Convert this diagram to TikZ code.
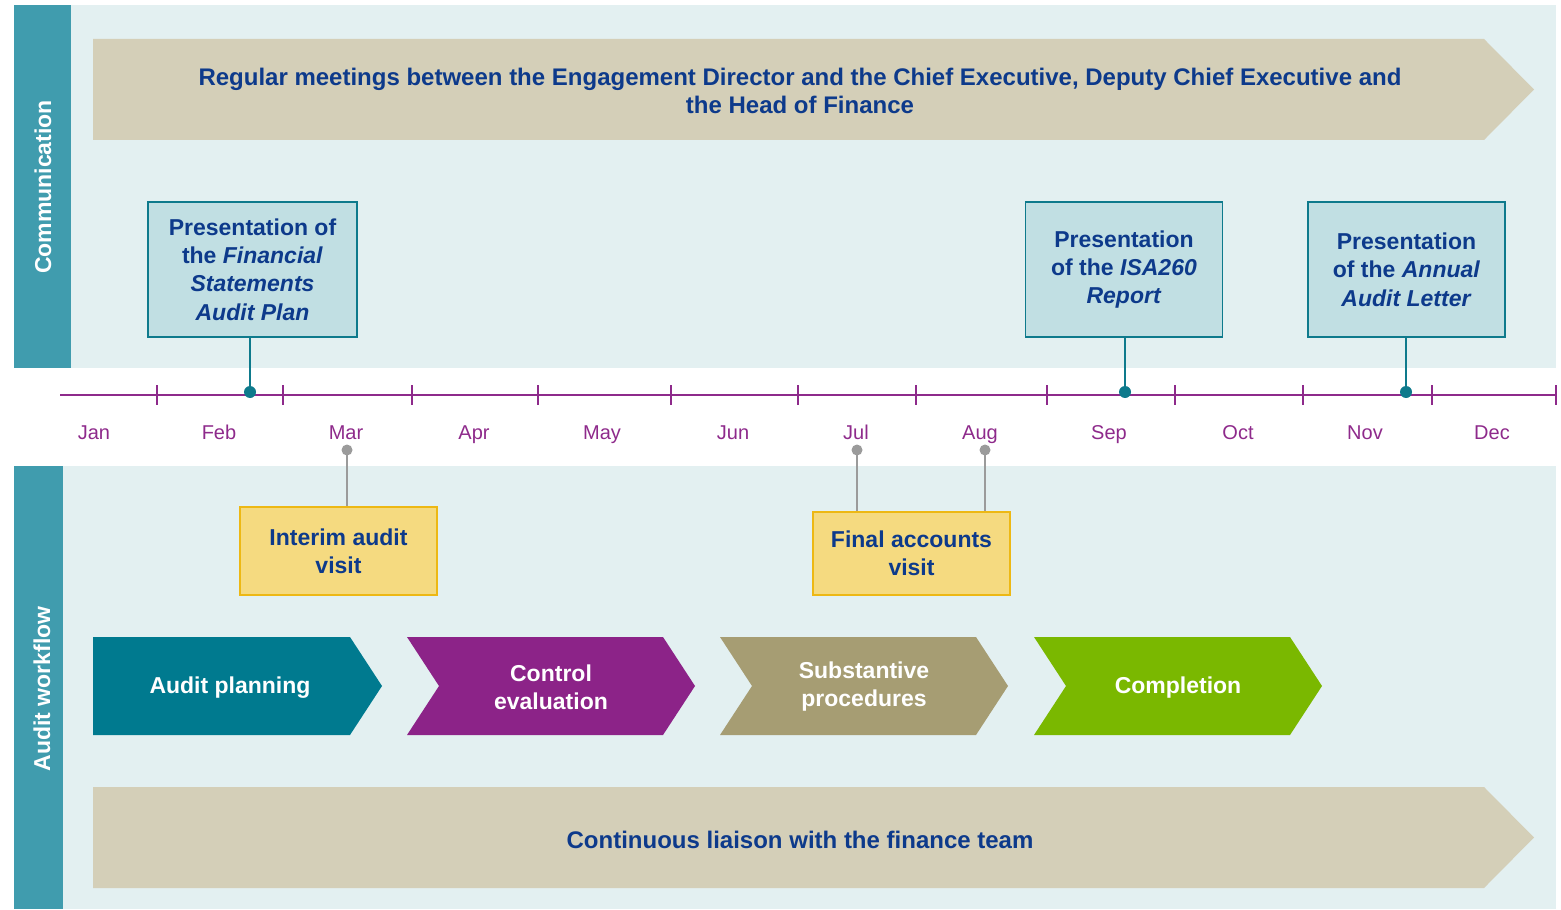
\documentclass[tikz,border=0pt]{standalone}
\usepackage{fontspec}
\setmainfont{Liberation Sans}
\usetikzlibrary{positioning}
\definecolor{panelbg}{HTML}{E3F0F1}
\definecolor{stripteal}{HTML}{409CAE}
\definecolor{bannertan}{HTML}{D4CFB8}
\definecolor{navytext}{HTML}{0D3A8B}
\definecolor{lineplum}{HTML}{8E2A8B}
\definecolor{boxfill}{HTML}{C1DFE3}
\definecolor{boxline}{HTML}{0E7A8C}
\definecolor{visitfill}{HTML}{F5DA80}
\definecolor{visitline}{HTML}{EDB814}
\definecolor{planteal}{HTML}{007A8F}
\definecolor{ctrlpurple}{HTML}{8C2388}
\definecolor{subolive}{HTML}{A69D73}
\definecolor{compgreen}{HTML}{7AB800}
\definecolor{pingray}{HTML}{9B9B9B}
\tikzset{
    panel/.style={fill=panelbg},
    strip/.style={fill=stripteal},
    strip label/.style={rotate=90, text=white, font=\bfseries\fontsize{11.5}{14}\selectfont},
    banner/.style={fill=bannertan},
    banner text/.style={text=navytext, align=center, font=\bfseries\fontsize{12}{14}\selectfont},
    raw box/.style={rectangle, line width=0.9pt, text=navytext, align=center, inner sep=0pt, font=\bfseries\fontsize{11.5}{14.2}\selectfont},
    present box/.style={raw box, draw=boxline, fill=boxfill, minimum height=67.5pt},
    visit box/.style={raw box, draw=visitline, fill=visitfill, minimum width=98.5pt},
    timeline/.style={draw=lineplum, line width=1.4pt},
    month/.style={text=lineplum, anchor=base, font=\fontsize{10}{12}\selectfont},
    link/.style={draw=boxline, line width=1pt},
    pin link/.style={draw=pingray, line width=1pt},
    chevron text/.style={text=white, align=center, font=\bfseries\fontsize{11.5}{14}\selectfont}
}
\begin{document}
\begin{tikzpicture}[x=0.5pt, y=-0.5pt]
    \useasboundingbox (0,0) rectangle (1561,909);
    % panels
    \fill[panel] (14,5) rectangle (1556,368);
    \fill[strip] (14,5) rectangle (71,368);
    \node[strip label] (comm) at (43,187) {Communication};
    \fill[panel] (14,466) rectangle (1556,909);
    \fill[strip] (14,466) rectangle (63,909);
    \node[strip label] (flow) at (42,689) {Audit workflow};
    % banners
    \fill[banner] (93,39) -- (1484,39) -- (1534,89.5) -- (1484,140) -- (93,140) -- cycle;
    \node[banner text] (meet) at (800,91) {Regular meetings between the Engagement Director and the Chief Executive, Deputy Chief Executive and\\the Head of Finance};
    \fill[banner] (93,787) -- (1484,787) -- (1534,837.5) -- (1484,888) -- (93,888) -- cycle;
    \node[banner text] (liaise) at (800,840) {Continuous liaison with the finance team};
    % timeline
    \draw[timeline] (60,395) -- (1556,395);
    \foreach \x in {157,283,412,538,671,798,916,1047,1175,1303,1432,1556}
        \draw[timeline] (\x,385) -- (\x,405);
    \foreach \m/\x in {Jan/94,Feb/219,Mar/346,Apr/474,May/602,Jun/733,Jul/856,Aug/980,Sep/1109,Oct/1238,Nov/1365,Dec/1492}
        \node[month] (m\m) at (\x,439) {\m};
    % communication boxes
    \node[present box, minimum width=104.5pt] (pfs) at (252.5,269.5) {Presentation of\\the \textit{Financial}\\\textit{Statements}\\\textit{Audit Plan}};
    \node[present box, minimum width=98.5pt] (pisa) at (1124,269.5) {Presentation\\of the \textit{ISA260}\\\textit{Report}};
    \node[present box, minimum width=98.5pt] (pal) at (1406.5,269.5) {Presentation\\of the \textit{Annual}\\\textit{Audit Letter}};
    \coordinate (dfs) at (250,392);
    \coordinate (disa) at (1125,392);
    \coordinate (dal) at (1406,392);
    \foreach \b/\d in {pfs/dfs,pisa/disa,pal/dal} {
        \draw[link] (\d |- \b.south) -- (\d);
        \fill[boxline] (\d) circle (6);
    }
    % visit boxes
    \node[visit box, minimum height=44pt] (interim) at (338.5,551) {Interim audit\\visit};
    \node[visit box, minimum height=41.5pt] (final) at (911.5,553.5) {Final accounts\\visit};
    \coordinate (dmar) at (347,450);
    \coordinate (djul) at (857,450);
    \coordinate (daug) at (985,450);
    \foreach \b/\d in {interim/dmar,final/djul,final/daug} {
        \draw[pin link] (\d) -- (\d |- \b.north);
        \fill[pingray] (\d) circle (5.5);
    }
    % workflow chevrons
    \fill[planteal] (93,637) -- (350,637) -- (382,686) -- (350,735) -- (93,735) -- cycle;
    \node[chevron text] (plan) at (230,688) {Audit planning};
    \fill[ctrlpurple] (407,637) -- (663,637) -- (695,686) -- (663,735) -- (407,735) -- (439,686) -- cycle;
    \node[chevron text] (ctrl) at (551,687) {Control\\evaluation};
    \fill[subolive] (720,637) -- (976,637) -- (1008,686) -- (976,735) -- (720,735) -- (752,686) -- cycle;
    \node[chevron text] (subst) at (864,687) {Substantive\\procedures};
    \fill[compgreen] (1034,637) -- (1290,637) -- (1322,686) -- (1290,735) -- (1034,735) -- (1066,686) -- cycle;
    \node[chevron text] (comp) at (1178,688) {Completion};
\end{tikzpicture}
\end{document}
